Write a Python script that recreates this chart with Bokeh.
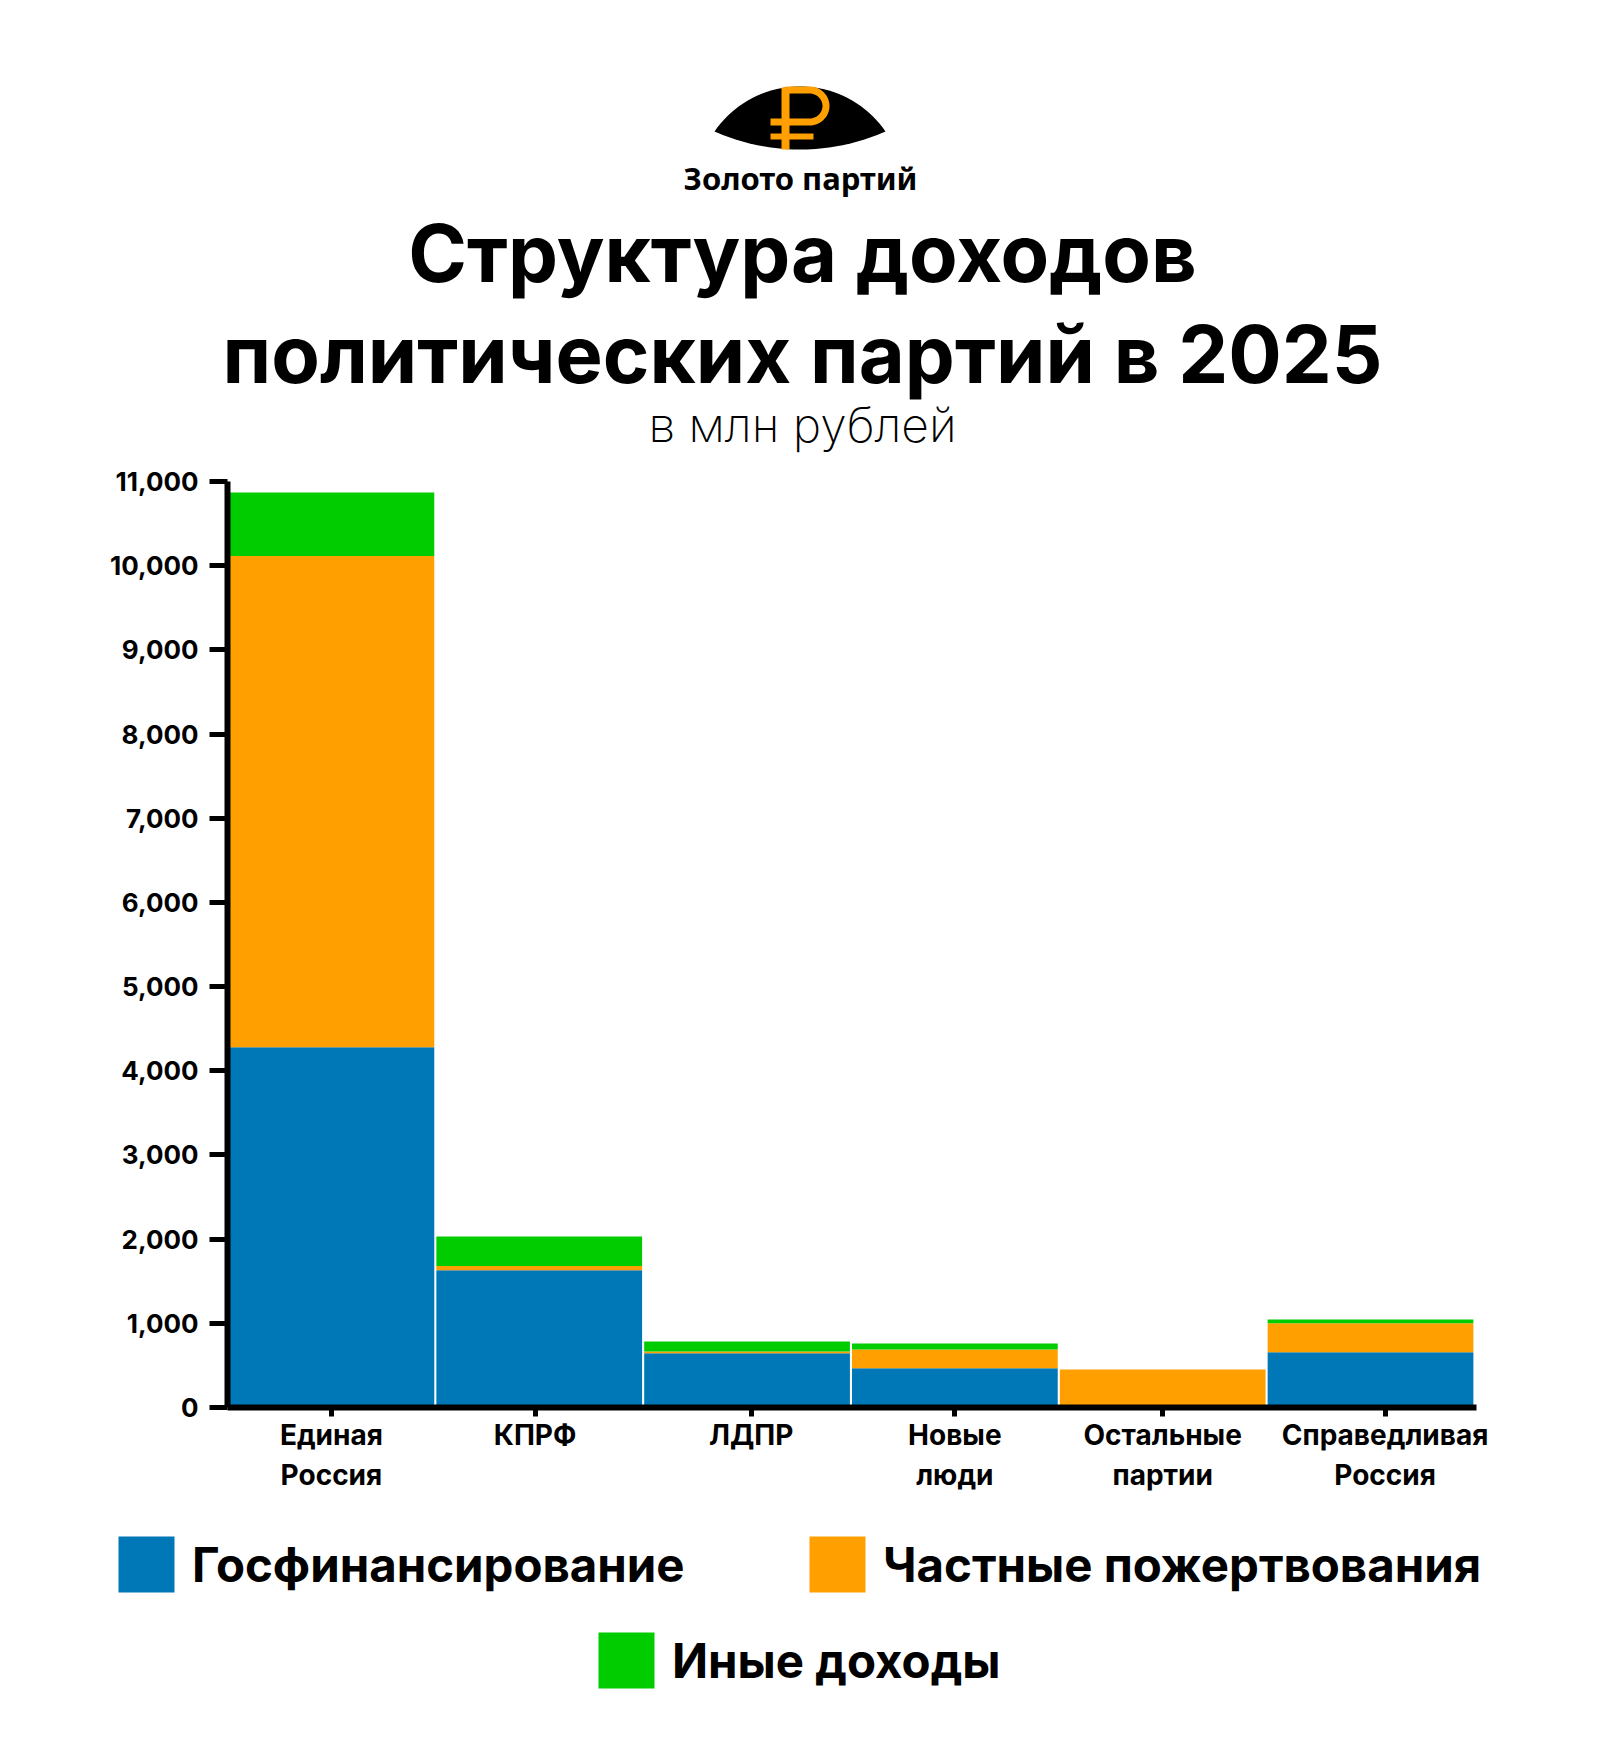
import numpy as np
from bokeh.plotting import figure
from bokeh.layouts import column
from bokeh.models import Label, Legend, LegendItem, FixedTicker, Range1d, ColumnDataSource
from bokeh.embed import file_html
from bokeh.resources import INLINE

parties = ["Единая\nРоссия", "КПРФ", "ЛДПР", "Новые\nлюди", "Остальные\nпартии", "Справедливая\nРоссия"]
state_funding = [4280, 1630, 645, 467, 0, 655]
donations = [5835, 50, 20, 223, 450, 345]
other_income = [755, 350, 120, 70, 0, 45]
tick_offsets = [0.0, -0.02, 0.02, 0.0, 0.0, 0.07]
y_ticks = list(range(0, 12000, 1000))
series_names = ["Госфинансирование", "Частные пожертвования", "Иные доходы"]
colors = ["#0077B6", "#FFA000", "#00CC00"]

W = 1584
FONT = "Inter"
H_HEAD, H_CHART, H_LEG = 458, 1062, 226

# ---------- header: logo and titles ----------
head = figure(width=W, height=H_HEAD, output_backend="svg", toolbar_location=None,
              x_range=Range1d(0, W), y_range=Range1d(H_HEAD, 0), frame_align=False,
              min_border=0, x_axis_type=None, y_axis_type=None, outline_line_color=None)
head.grid.visible = False

def text(s, xc, y, size, style="bold", font=FONT):
    head.add_layout(Label(x=xc, y=y - 0.39*size, text=s, text_font=font, text_font_style=style,
                          text_font_size=f"{size}px", text_color="black",
                          text_align="center", text_baseline="alphabetic"))

def arc(cx, half, sag, sign, n=40):
    R = (half**2 + sag**2) / (2*sag)
    t = np.linspace(-np.arcsin(half/R), np.arcsin(half/R), n)
    return cx + R*np.sin(t), (131 - sign*(R*np.cos(t) - (R - sag)))

ux, uy = arc(799.5, 85.5, 45, 1)
lx, ly = arc(799.5, 85.5, 18, -1)
head.patch(list(np.r_[ux, lx[::-1]]), list(np.r_[uy, ly[::-1]]), fill_color="black", line_color=None)
gold = colors[1]
head.patch([781, 789, 789, 781], [87, 87, 149, 149], fill_color=gold, line_color=None)
head.patch([770, 789, 789, 770], [118, 118, 125, 125], fill_color=gold, line_color=None)
head.patch([770, 813, 813, 770], [133, 133, 139, 139], fill_color=gold, line_color=None)
t = np.linspace(-np.pi/2, np.pi/2, 30)
ox, oy = 809 + 20*np.cos(t), 105.5 + 19.5*np.sin(t)
ix, iy = 809 + 13*np.cos(t), 105.5 + 12.5*np.sin(t)
head.patch(list(np.r_[785, ox, 785, 785, ix[::-1], 785]),
           list(np.r_[86, oy, 125, 118, iy[::-1], 93]), fill_color=gold, line_color=None)

text("Золото партий", 800, 190, 31, font="Noto Sans")
text("Структура доходов", 802, 283, 79.4)
text("политических партий в 2025", 802, 384, 79.4)
text("в млн рублей", 802, 443, 48, style="normal", font="Inter ExtraLight")

# ---------- chart ----------
p = figure(width=W, height=H_CHART, output_backend="svg", toolbar_location=None,
           x_range=Range1d(-0.5, 5.51), y_range=Range1d(0, 11000), frame_align=False,
           min_border_left=227, min_border_right=W-1476,
           min_border_top=481-H_HEAD, min_border_bottom=H_HEAD+H_CHART-1407)
p.outline_line_color = None
p.grid.visible = False

x = list(range(len(parties)))
src = ColumnDataSource(dict(x=x, a0=[0]*6, a1=state_funding,
    b1=[a+b for a, b in zip(state_funding, donations)],
    c1=[a+b+c for a, b, c in zip(state_funding, donations, other_income)]))
p.vbar(x="x", width=0.99, bottom="a0", top="a1", source=src, fill_color=colors[0], line_color=None)
p.vbar(x="x", width=0.99, bottom="a1", top="b1", source=src, fill_color=colors[1], line_color=None)
p.vbar(x="x", width=0.99, bottom="b1", top="c1", source=src, fill_color=colors[2], line_color=None)

ax = p.xaxis[0]
positions = [i+o for i, o in zip(x, tick_offsets)]
ax.ticker = FixedTicker(ticks=positions)
ax.major_label_overrides = {pos: lab for pos, lab in zip(positions, parties)}
ax.axis_line_width = 6
ax.axis_line_color = "black"
ax.major_tick_line_width = 5
ax.major_tick_line_color = "black"
ax.major_tick_out = 9
ax.major_tick_in = 0
ax.minor_tick_line_color = None
ax.major_label_text_font = FONT
ax.major_label_text_font_style = "bold"
ax.major_label_text_font_size = "28px"
ax.major_label_text_color = "black"
ax.major_label_standoff = 1

ay = p.yaxis[0]
ay.ticker = FixedTicker(ticks=y_ticks)
ay.major_label_overrides = {v: f"{v:,}" for v in y_ticks}
ay.axis_line_width = 6
ay.axis_line_color = "black"
ay.major_tick_line_width = 5
ay.major_tick_line_color = "black"
ay.major_tick_out = 18
ay.major_tick_in = 0
ay.minor_tick_line_color = None
ay.major_label_text_font = FONT
ay.major_label_text_font_style = "bold"
ay.major_label_text_font_size = "26px"
ay.major_label_text_color = "black"
ay.major_label_standoff = 11

# ---------- legend ----------
leg = figure(width=W, height=H_LEG, output_backend="svg", toolbar_location=None,
             x_range=Range1d(0, W), y_range=Range1d(0, H_LEG), frame_align=False,
             min_border=0, x_axis_type=None, y_axis_type=None, outline_line_color=None)
leg.grid.visible = False
common = dict(border_line_color=None, background_fill_alpha=0, glyph_width=70, glyph_height=70,
              label_text_font=FONT, label_text_font_style="bold", label_text_font_size="47.4px",
              label_text_color="black", label_standoff=11, margin=0, padding=0, spacing=0,
              label_height=70, label_text_baseline="middle")
top0 = H_HEAD + H_CHART + H_LEG
for name, col, lx0, bottom in zip(series_names, colors, [118, 809, 598], [1594, 1594, 1690]):
    r = leg.vbar(x=[-100], bottom=[-100], top=[-99], width=1, fill_color=col, line_color=None)
    leg.add_layout(Legend(items=[LegendItem(label=name, renderers=[r])],
                          location=(lx0 - 7, top0 - bottom - 7 + 2), **common), "center")

page = column(head, p, leg, spacing=0)
open("out.html", "w").write(file_html(page, INLINE))
